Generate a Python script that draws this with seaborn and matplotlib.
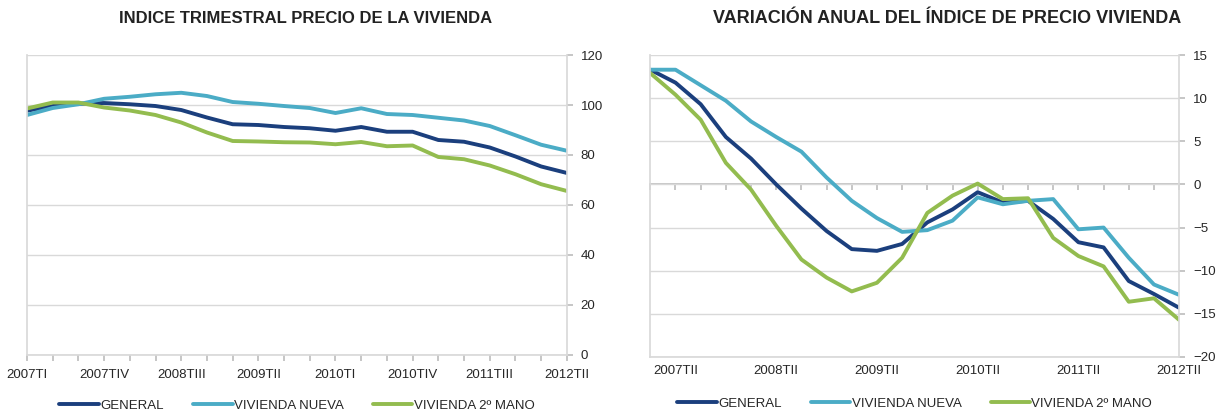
import pandas as pd
import matplotlib
matplotlib.use("Agg")
import matplotlib.pyplot as plt
import seaborn as sb

# DATA
#-----------------------------------
quarters = ["2007TI", "2007TII", "2007TIII", "2007TIV",
            "2008TI", "2008TII", "2008TIII", "2008TIV",
            "2009TI", "2009TII", "2009TIII", "2009TIV",
            "2010TI", "2010TII", "2010TIII", "2010TIV",
            "2011TI", "2011TII", "2011TIII", "2011TIV",
            "2012TI", "2012TII"]

series_names = ["GENERAL", "VIVIENDA NUEVA", "VIVIENDA 2º MANO"]

general_idx = [97.7, 99.6, 100.5, 100.8, 100.3, 99.6, 98.0, 95.0, 92.3, 92.0, 91.2, 90.7,
               89.7, 91.2, 89.3, 89.3, 86.0, 85.3, 83.0, 79.4, 75.4, 72.8]
nueva_idx = [96.0, 98.8, 100.3, 102.5, 103.3, 104.3, 104.9, 103.6, 101.2, 100.5, 99.6, 98.8,
             96.8, 98.7, 96.4, 96.0, 94.9, 93.8, 91.6, 87.9, 84.1, 81.7]
segunda_idx = [98.6, 101.0, 101.0, 99.0, 97.8, 96.0, 93.0, 89.0, 85.6, 85.4, 85.1, 85.0,
               84.3, 85.2, 83.5, 83.8, 79.2, 78.3, 75.8, 72.3, 68.3, 65.6]

general_var = [13.3, 11.8, 9.3, 5.5, 3.0, 0.0, -2.8, -5.4, -7.5, -7.7, -6.9, -4.4,
               -2.9, -0.9, -2.1, -1.9, -4.0, -6.7, -7.3, -11.2, -12.7, -14.3]
nueva_var = [13.3, 13.3, 11.5, 9.7, 7.3, 5.5, 3.8, 0.8, -1.9, -3.9, -5.5, -5.3,
             -4.2, -1.5, -2.3, -1.9, -1.7, -5.2, -5.0, -8.5, -11.6, -12.8]
segunda_var = [12.9, 10.4, 7.5, 2.5, -0.6, -4.8, -8.7, -10.8, -12.4, -11.4, -8.5, -3.3,
               -1.3, 0.1, -1.7, -1.6, -6.2, -8.3, -9.5, -13.6, -13.2, -15.7]

left_labels = ["2007TI", "2007TIV", "2008TIII", "2009TII", "2010TI", "2010TIV", "2011TIII", "2012TII"]
right_labels = ["2007TII", "2008TII", "2009TII", "2010TII", "2011TII", "2012TII"]

palette = ["#1B3F7D", "#4BACC6", "#93BC4F"]
grid_color = "#D9D9D9"


def long_df(values):
    rows = []
    for name, vals in zip(series_names, values):
        for i, v in enumerate(vals):
            rows.append({"pos": i, "serie": name, "valor": v})
    return pd.DataFrame(rows)


def style_axes(ax, ymin, ymax, ystep, labels, legend_y):
    ax.set_xlim(0, len(quarters) - 1)
    ax.set_ylim(ymin, ymax)
    ax.set_yticks(range(ymin, ymax + 1, ystep))
    ax.yaxis.tick_right()
    ax.tick_params(axis="y", length=4, color="#BFBFBF", labelsize=9.5, pad=6)
    ax.grid(axis="y", color=grid_color, linewidth=1)
    ax.grid(axis="x", visible=False)
    ticks = list(range(len(quarters)))
    ax.set_xticks(ticks)
    ax.set_xticklabels([q if q in labels else "" for q in quarters])
    ax.tick_params(axis="x", labelsize=9.5, pad=6)
    for s in ["left", "bottom", "right"]:
        ax.spines[s].set_visible(True)
        ax.spines[s].set_color(grid_color)
    ax.spines["top"].set_visible(False)
    ax.set_xlabel("")
    ax.set_ylabel("")
    ax.legend(loc="center", bbox_to_anchor=(0.5, legend_y), ncol=3, frameon=False,
              fontsize=9.5, handlelength=3.0, handletextpad=0.1, columnspacing=2.2)


# PLOT
#-----------------------------------
def main():
    sb.set_theme(style="white")
    plt.rcParams["font.family"] = ["Liberation Sans", "DejaVu Sans"]

    fig = plt.figure(figsize=(12.27, 4.17), dpi=100)
    ax1 = fig.add_axes([0.022, 0.149, 0.440, 0.719])
    ax2 = fig.add_axes([0.530, 0.144, 0.431, 0.724])

    sb.lineplot(data=long_df([general_idx, nueva_idx, segunda_idx]), x="pos", y="valor",
                hue="serie", palette=palette, linewidth=2.8, ax=ax1)
    style_axes(ax1, 0, 120, 20, left_labels, -0.17)
    ax1.tick_params(axis="x", length=4, color="#BFBFBF", direction="out", bottom=True)

    sb.lineplot(data=long_df([general_var, nueva_var, segunda_var]), x="pos", y="valor",
                hue="serie", palette=palette, linewidth=2.8, ax=ax2)
    style_axes(ax2, -20, 15, 5, right_labels, -0.155)
    ax2.tick_params(axis="x", length=0)

    # zero line with quarter ticks
    y0, y1 = ax2.get_ylim()
    zero_ax = ax2.secondary_xaxis((0 - y0) / (y1 - y0))
    zero_ax.set_xticks(range(len(quarters)))
    zero_ax.tick_params(axis="x", direction="in", length=4, color="#BFBFBF",
                        labeltop=False, labelbottom=False)
    for s in zero_ax.spines.values():
        s.set_color("#BFBFBF")

    fig.text(0.249, 0.955, "INDICE TRIMESTRAL PRECIO DE LA VIVIENDA", ha="center", va="center",
             fontsize=12, fontweight="bold", color="#222222")
    fig.text(0.772, 0.955, "VARIACIÓN ANUAL DEL ÍNDICE DE PRECIO VIVIENDA", ha="center",
             va="center", fontsize=13, fontweight="bold", color="#222222")

    fig.savefig("out.png", dpi=100)


# RUN
#-----------------------------------
if __name__ == "__main__":
    main()
